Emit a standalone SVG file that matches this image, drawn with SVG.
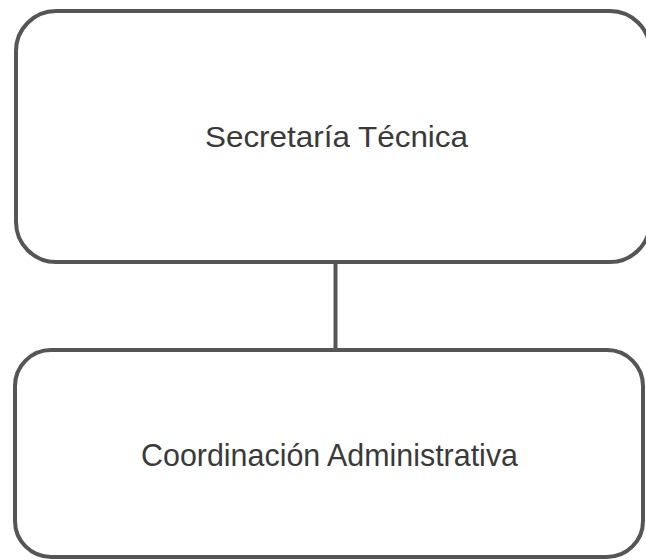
<svg xmlns="http://www.w3.org/2000/svg" width="646" height="560" viewBox="0 0 646 560">
<style>
.box{fill:#fff;stroke:#555;stroke-width:4}
.lbl{font-family:"Liberation Sans",Arial,sans-serif;fill:#3a3a3a}
.conn{stroke:#555;stroke-width:4;fill:none}
</style>
<rect width="646" height="560" fill="#fff"/>
<g id="connectors">
<line class="conn" x1="335.5" y1="262" x2="335.5" y2="350"/>
</g>
<g id="secretaria">
<rect class="box" x="16" y="11" width="634" height="251" rx="40" ry="40"/>
<text class="lbl" x="205" y="147" font-size="29" textLength="263" lengthAdjust="spacingAndGlyphs">Secretaría Técnica</text>
</g>
<g id="coordinacion">
<rect class="box" x="15" y="350" width="628" height="207" rx="36" ry="36"/>
<text class="lbl" x="141" y="466" font-size="32" textLength="377" lengthAdjust="spacingAndGlyphs">Coordinación Administrativa</text>
</g>
</svg>
